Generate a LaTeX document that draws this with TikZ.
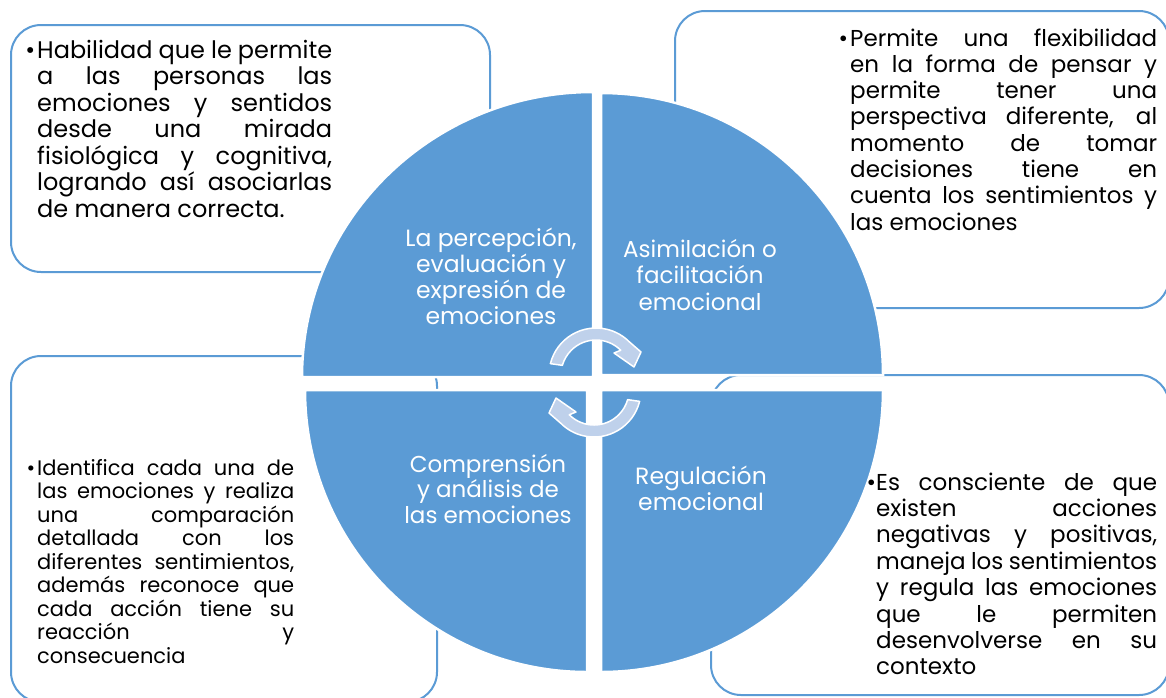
\documentclass[tikz,border=0pt]{standalone}
\usepackage{fontspec}
\setmainfont{Poppins}
\definecolor{qblue}{HTML}{5B9BD5}
\definecolor{arrowfill}{HTML}{BFD1EB}
\newcommand{\jl}[1]{\makebox[\linewidth][s]{#1}}
\newcommand{\bul}{\llap{\textbullet\hspace{2pt}}}
\tikzset{
  box/.style={draw=qblue, line width=2pt, rounded corners=30pt, fill=white, anchor=north west, inner sep=0pt},
  quad/.style={fill=qblue, draw=white, line width=2.5pt},
  txt/.style={anchor=base west, inner sep=0pt, text=black},
  lab/.style={anchor=base, inner sep=0pt, text=white},
  cyc/.style={fill=arrowfill, draw=white, line width=1.5pt, line join=round}
}
\begin{document}
\begin{tikzpicture}[x=1pt, y=-1pt]
\useasboundingbox (0,0) rectangle (1166,697);
% text boxes
\node[box, minimum width=479pt, minimum height=247pt] (b1) at (10,24) {};
\node[box, minimum width=494pt, minimum height=297pt] (b2) at (674,10) {};
\node[box, minimum width=426pt, minimum height=346pt] (b3) at (10,355) {};
\node[box, minimum width=458pt, minimum height=320pt] (b4) at (710,374) {};
% quadrants
\path[quad] (593,377) -- (302,377) arc[start angle=180, end angle=270, x radius=291, y radius=285] -- cycle;
\path[quad] (601,375) -- (601,93) arc[start angle=270, end angle=360, radius=282] -- cycle;
\path[quad] (587,390) -- (305,390) arc[start angle=180, end angle=90, radius=282] -- cycle;
\path[quad] (601,390) -- (883,390) arc[start angle=0, end angle=90, radius=282] -- cycle;
% cycle arrows
\path[cyc, shift={(596,375)}] (194:47) arc[start angle=194, end angle=315, radius=47]
  -- (45,-23) -- (38,-8) -- (18,-22) -- (315:35)
  arc[start angle=315, end angle=196, radius=35] -- cycle;
\path[cyc, shift={(594,390)}, rotate=180] (194:47) arc[start angle=194, end angle=315, radius=47]
  -- (45,-23) -- (38,-8) -- (18,-22) -- (315:35)
  arc[start angle=315, end angle=196, radius=35] -- cycle;
% quadrant labels
\node[lab] (l1) at (491,246) {\parbox[t]{230pt}{\centering\fontsize{23.5}{26}\selectfont La percepción,\\evaluación y\\expresión de\\emociones}};
\node[lab] (l2) at (700,257) {\parbox[t]{230pt}{\centering\fontsize{23}{26.5}\selectfont Asimilación o\\facilitación\\emocional}};
\node[lab] (l3) at (488,472) {\parbox[t]{230pt}{\centering\fontsize{23}{25.5}\selectfont Comprensión\\y análisis de\\las emociones}};
\node[lab] (l4) at (701,484) {\parbox[t]{230pt}{\centering\fontsize{23.5}{26}\selectfont Regulación\\emocional}};
% box texts
\node[txt] (t1) at (37,58) {\parbox[t]{295pt}{\fontsize{24}{26.5}\selectfont
\jl{\bul Habilidad que le permite}\\
\jl{a las personas las}\\
\jl{emociones y sentidos}\\
\jl{desde una mirada}\\
\jl{fisiológica y cognitiva,}\\
\jl{logrando así asociarlas}\\
de manera correcta.}};
\node[txt] (t2) at (850,46) {\parbox[t]{307pt}{\fontsize{23}{26.3}\selectfont
\jl{\bul Permite una flexibilidad}\\
\jl{en la forma de pensar y}\\
\jl{permite tener una}\\
\jl{perspectiva diferente, al}\\
\jl{momento de tomar}\\
\jl{decisiones tiene en}\\
\jl{cuenta los sentimientos y}\\
las emociones}};
\node[txt] (t3) at (37,475) {\parbox[t]{257pt}{\fontsize{21}{23.5}\selectfont
\jl{\bul Identifica cada una de}\\
\jl{las emociones y realiza}\\
\jl{una comparación}\\
\jl{detallada con los}\\
\jl{diferentes sentimientos,}\\
\jl{además reconoce que}\\
\jl{cada acción tiene su}\\
\jl{reacción y}\\
consecuencia}};
\node[txt] (t4) at (876,490) {\parbox[t]{281pt}{\fontsize{23}{26.4}\selectfont
\jl{\llap{\textbullet}Es consciente de que}\\
\jl{existen acciones}\\
\jl{negativas y positivas,}\\
\jl{maneja los sentimientos}\\
\jl{y regula las emociones}\\
\jl{que le permiten}\\
\jl{desenvolverse en su}\\
contexto}};
\end{tikzpicture}
\end{document}
